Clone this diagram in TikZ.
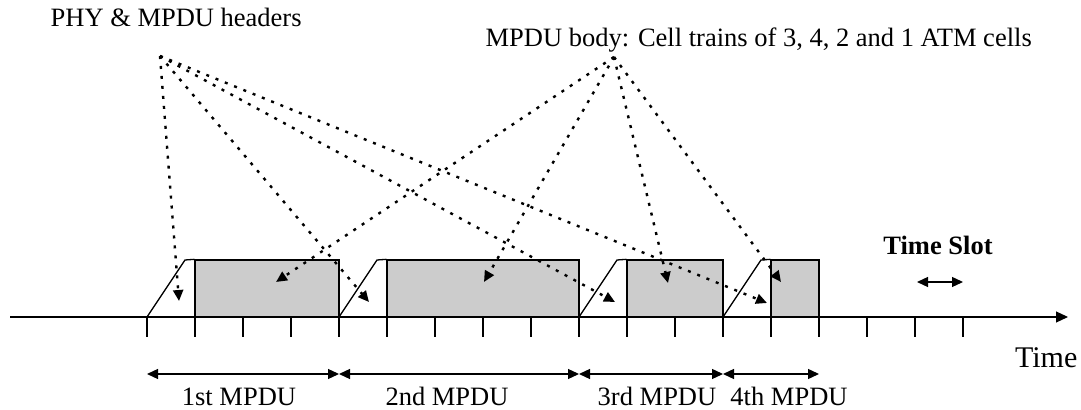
\documentclass[tikz,border=0pt]{standalone}
\usepackage{fontspec}
\setmainfont{Liberation Serif}
\usetikzlibrary{arrows.meta}
\tikzset{
  bodybox/.style={draw,fill=black!20,minimum height=57bp,inner sep=0pt,line width=1.3bp},
  pointer/.style={line width=2.4bp,dash pattern=on 3bp off 7bp,-{Triangle[length=11bp,width=10bp]}},
  span/.style={line width=1.3bp,{Triangle[length=11bp,width=10bp]}-{Triangle[length=11bp,width=10bp]}},
  lbl/.style={inner sep=0pt,font=\fontsize{26.5bp}{30bp}\selectfont},
}
\begin{document}
\begin{tikzpicture}[>=latex,line join=miter,line width=1.3bp]
    \useasboundingbox (0,0) rectangle (1081bp,410bp);
    %%
    \node (hdrlabel) at (50bp,383bp) [lbl,anchor=base west] {PHY \& MPDU headers};
    \node (bodylabel) at (485bp,363bp) [lbl,anchor=base west] {MPDU body: Cell trains of 3, 4, 2 and 1 ATM cells};
    \coordinate (hdrsrc) at (160bp,354bp);
    \coordinate (bodysrc) at (614bp,353bp);
    %% time axis
    \coordinate (axisstart) at (10bp,93bp);
    \coordinate (axisend) at (1068bp,93bp);
    \draw [line width=1.2bp,-{Triangle[length=12bp,width=11bp]}] (axisstart) -- (axisend);
    \foreach \x in {0,...,17}
      \draw (147bp+\x*48bp,93bp) -- ++(0,-20bp);
    \node (timelabel) at (1078bp,42bp) [lbl,anchor=base east,font=\fontsize{30bp}{34bp}\selectfont] {Time};
    %% MPDU frames
    \node (b1) at (267bp,121.5bp) [bodybox,minimum width=144bp] {};
    \node (b2) at (483bp,121.5bp) [bodybox,minimum width=192bp] {};
    \node (b3) at (675bp,121.5bp) [bodybox,minimum width=96bp] {};
    \node (b4) at (795bp,121.5bp) [bodybox,minimum width=48bp] {};
    \coordinate (f1) at (147bp,93bp);
    \coordinate (f2) at (339bp,93bp);
    \coordinate (f3) at (579bp,93bp);
    \coordinate (f4) at (723bp,93bp);
    \draw (f1) -- ++(38bp,57bp) -- (b1.north west);
    \draw (f2) -- ++(38bp,57bp) -- (b2.north west);
    \draw (f3) -- ++(38bp,57bp) -- (b3.north west);
    \draw (f4) -- ++(38bp,57bp) -- (b4.north west);
    %% header and body pointers
    \coordinate (h1) at (179bp,109bp);
    \coordinate (h2) at (369bp,108bp);
    \coordinate (h3) at (615bp,108bp);
    \coordinate (h4) at (767bp,107bp);
    \coordinate (c1) at (276bp,128bp);
    \coordinate (c2) at (484bp,128bp);
    \coordinate (c3) at (668bp,127bp);
    \coordinate (c4) at (781bp,128bp);
    \foreach \t in {h1,h2,h3,h4}
      \draw [pointer] (hdrsrc) -- (\t);
    \foreach \t in {c1,c2,c3,c4}
      \draw [pointer] (bodysrc) -- (\t);
    %% MPDU spans
    \coordinate (m0) at (147bp,36bp);
    \coordinate (m1) at (339bp,36bp);
    \coordinate (m2) at (579bp,36bp);
    \coordinate (m3) at (723bp,36bp);
    \coordinate (m4) at (819bp,36bp);
    \draw [span] (m0) -- (m1);
    \draw [span] (m1) -- (m2);
    \draw [span] (m2) -- (m3);
    \draw [span] (m3) -- (m4);
    \node (mpdu1) at (239bp,5bp) [lbl,anchor=base] {1st MPDU};
    \node (mpdu2) at (447bp,5bp) [lbl,anchor=base] {2nd MPDU};
    \node (mpdu3) at (657bp,5bp) [lbl,anchor=base] {3rd MPDU};
    \node (mpdu4) at (789bp,5bp) [lbl,anchor=base] {4th MPDU};
    %% time slot
    \node (slotlabel) at (938bp,155bp) [lbl,anchor=base,font=\fontsize{26.5bp}{30bp}\selectfont\bfseries] {Time Slot};
    \coordinate (s0) at (917bp,128bp);
    \coordinate (s1) at (963bp,128bp);
    \draw [span] (s0) -- (s1);
    %
\end{tikzpicture}
\end{document}
